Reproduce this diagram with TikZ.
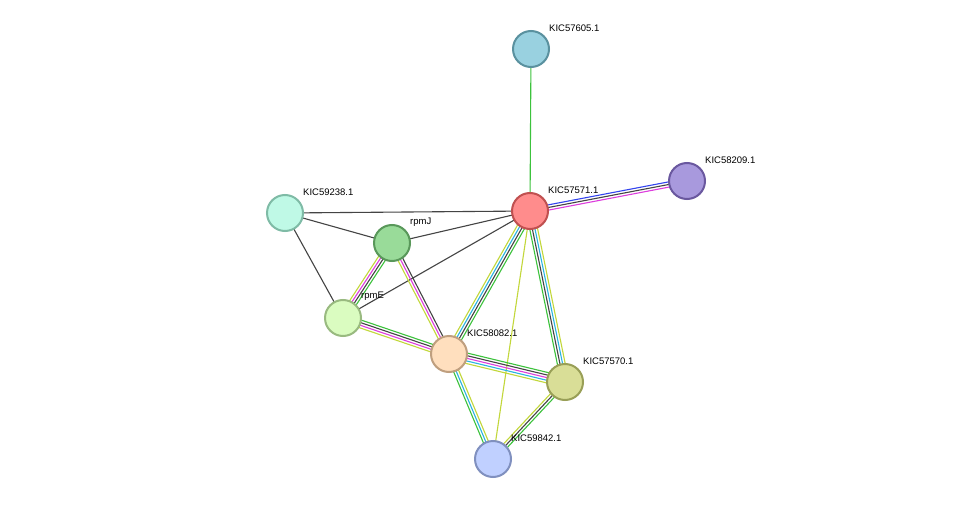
\documentclass[tikz,border=0pt]{standalone}
\usepackage{fontspec}
\setmainfont{Liberation Sans}
\usetikzlibrary{calc}
\pgfdeclarelayer{edgelayer}
\pgfsetlayers{edgelayer,main}
\definecolor{sgreen}{HTML}{3CC23C}
\definecolor{scyan}{HTML}{2BB4E0}
\definecolor{syellow}{HTML}{C2D73A}
\definecolor{smagenta}{HTML}{DD3DDD}
\definecolor{sblack}{HTML}{444444}
\definecolor{sblue}{HTML}{3344EE}
\tikzstyle{prot}=[
			circle, minimum size = 36pt, inner sep = 0pt, line width = 2pt
		]
\tikzstyle{lbl}=[
			anchor = west, inner sep = 0pt, font = \fontsize{9.5}{11}\selectfont
		]
\newcommand{\link}[4]{%
	\foreach \c [count=\i] in {#4} {
		\pgfmathsetmacro{\off}{(\i-(#3+1)/2)*2.6}
		\draw[\c, line width = 1.1pt] ($(#1)!\off pt!90:(#2)$) -- ($(#2)!\off pt!-90:(#1)$);
	}%
}

\begin{document}
\begin{tikzpicture}[x=1pt,y=-1pt]
		\useasboundingbox (0,0) rectangle (976,505);

		\node[prot,draw={rgb,255:red,90;green,145;blue,159},fill={rgb,255:red,153;green,209;blue,224}] (k605) at (531,49) {};
		\node[prot,draw={rgb,255:red,106;green,88;blue,159},fill={rgb,255:red,168;green,153;blue,221}] (k209) at (687,181) {};
		\node[prot,draw={rgb,255:red,192;green,80;blue,80},fill={rgb,255:red,255;green,140;blue,140}] (k571) at (530,211) {};
		\node[prot,draw={rgb,255:red,127;green,187;blue,166},fill={rgb,255:red,191;green,249;blue,230}] (k238) at (285,213) {};
		\node[prot,draw={rgb,255:red,89;green,152;blue,90},fill={rgb,255:red,153;green,219;blue,153}] (rpmj) at (392,243) {};
		\node[prot,draw={rgb,255:red,153;green,186;blue,128},fill={rgb,255:red,218;green,252;blue,192}] (rpme) at (343,318) {};
		\node[prot,draw={rgb,255:red,191;green,159;blue,127},fill={rgb,255:red,255;green,223;blue,190}] (k082) at (449,354) {};
		\node[prot,draw={rgb,255:red,153;green,159;blue,87},fill={rgb,255:red,217;green,222;blue,151}] (k570) at (565,382) {};
		\node[prot,draw={rgb,255:red,128;green,144;blue,191},fill={rgb,255:red,192;green,208;blue,255}] (k842) at (493,459) {};

		\node[lbl] at ($(k605)+(18,-21)$) {KIC57605.1};
		\node[lbl] at ($(k209)+(18,-21)$) {KIC58209.1};
		\node[lbl] at ($(k571)+(18,-21)$) {KIC57571.1};
		\node[lbl] at ($(k238)+(18,-21)$) {KIC59238.1};
		\node[lbl] at ($(rpmj)+(18,-21)$) {rpmJ};
		\node[lbl] at ($(rpme)+(18,-22)$) {rpmE};
		\node[lbl] at ($(k082)+(18,-21)$) {KIC58082.1};
		\node[lbl] at ($(k570)+(18,-21)$) {KIC57570.1};
		\node[lbl] at ($(k842)+(18,-21)$) {KIC59842.1};

		\begin{pgfonlayer}{edgelayer}
		\fill[white] (0,0) rectangle (976,505);
		\link{k571}{k605}{1}{sgreen}
		\link{k571}{k209}{3}{smagenta,sblack,sblue}
		\link{k238}{k571}{1}{sblack}
		\link{k238}{rpmj}{1}{sblack}
		\link{k238}{rpme}{1}{sblack}
		\link{rpmj}{k571}{1}{sblack}
		\link{rpme}{k571}{1}{sblack}
		\link{rpmj}{rpme}{4}{syellow,smagenta,sblack,sgreen}
		\link{rpmj}{k082}{3}{syellow,smagenta,sblack}
		\link{rpme}{k082}{4}{syellow,smagenta,sblack,sgreen}
		\link{k571}{k082}{4}{syellow,scyan,sblack,sgreen}
		\link{k571}{k570}{4}{sgreen,sblack,scyan,syellow}
		\link{k571}{k842}{1}{syellow}
		\link{k082}{k570}{5}{syellow,scyan,smagenta,sblack,sgreen}
		\link{k082}{k842}{3}{sgreen,scyan,syellow}
		\link{k570}{k842}{3}{syellow,sblack,sgreen}
		\end{pgfonlayer}
\end{tikzpicture}
\end{document}
